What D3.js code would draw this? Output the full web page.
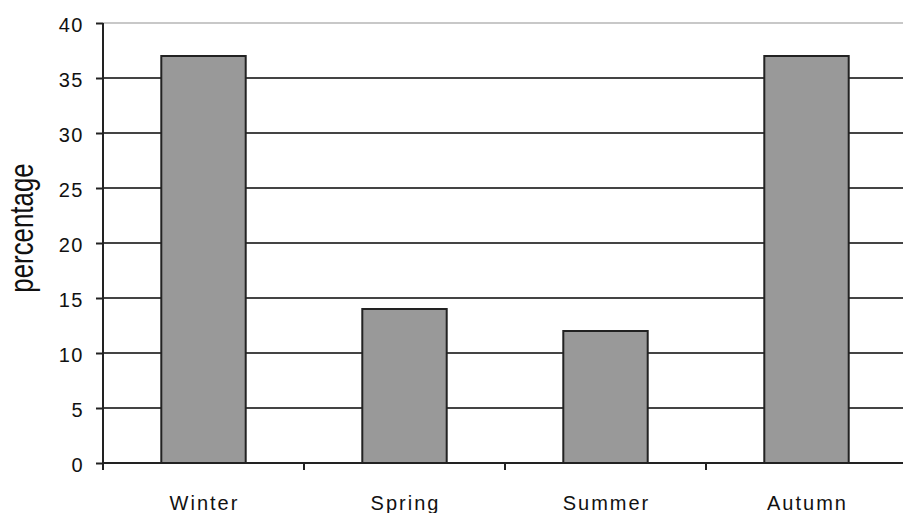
<!DOCTYPE html>
<html>
<head>
<meta charset="utf-8">
<script src="https://cdn.jsdelivr.net/npm/d3@7"></script>
<style>
  html, body { margin: 0; padding: 0; background: #fff; overflow: hidden; }
  svg { display: block; }
  text { font-family: "Liberation Sans", Arial, sans-serif; }
</style>
</head>
<body>
<div id="chart"></div>
<script>
// Seasonal share (percentage) per category
const seasons = ["Winter", "Spring", "Summer", "Autumn"];
const percentages = [37, 14, 12, 37];
const yTicks = [0, 5, 10, 15, 20, 25, 30, 35, 40];
const yTitle = "percentage";

const width = 903, height = 513;
const margin = { top: 23, right: -4, bottom: 50, left: 103 };
const innerW = width - margin.left - margin.right;
const innerH = height - margin.top - margin.bottom;

const svg = d3.select("#chart").append("svg")
  .attr("width", width).attr("height", height);

const g = svg.append("g").attr("transform", `translate(${margin.left},${margin.top})`);

const x = d3.scaleBand().domain(seasons).range([0, innerW]).paddingInner(0.58).paddingOuter(0.29);
const y = d3.scaleLinear().domain([0, 40]).range([innerH, 0]);

// horizontal gridlines
g.append("g").selectAll("line").data(yTicks.filter(t => t > 0)).join("line")
  .attr("x1", 0).attr("x2", innerW)
  .attr("y1", d => y(d)).attr("y2", d => y(d))
  .attr("stroke", d => d === 40 ? "#c8c8c8" : "#444")
  .attr("stroke-width", 2);

// bars
g.append("g").selectAll("rect").data(seasons).join("rect")
  .attr("x", d => x(d))
  .attr("y", (d, i) => y(percentages[i]))
  .attr("width", x.bandwidth())
  .attr("height", (d, i) => y(0) - y(percentages[i]))
  .attr("fill", "#999999")
  .attr("stroke", "#222")
  .attr("stroke-width", 2);

// y axis
const yAxis = g.append("g")
  .call(d3.axisLeft(y).tickValues(yTicks).tickSize(7).tickPadding(12));
yAxis.select(".domain").attr("stroke", "#222").attr("stroke-width", 2)
  .attr("d", `M0,${innerH + 7}V0`);
yAxis.selectAll(".tick line").attr("stroke", "#222").attr("stroke-width", 2);
yAxis.selectAll(".tick text")
  .attr("font-size", 20)
  .attr("letter-spacing", "1.5px")
  .attr("dy", "0.4em")
  .attr("fill", "#111")
  .attr("font-family", "'Liberation Sans', Arial, sans-serif");

// x axis: ticks fall on the band boundaries
const bounds = d3.range(1, seasons.length).map(i => x(seasons[i]) - (x.step() - x.bandwidth()) / 2);
const xAxis = g.append("g").attr("transform", `translate(0,${innerH})`);
xAxis.append("line").attr("x1", 0).attr("x2", innerW)
  .attr("stroke", "#222").attr("stroke-width", 2);
xAxis.selectAll("line.tk").data(bounds).join("line").attr("class", "tk")
  .attr("x1", d => d).attr("x2", d => d).attr("y1", 0).attr("y2", 7)
  .attr("stroke", "#222").attr("stroke-width", 2);
xAxis.selectAll("text").data(seasons).join("text")
  .attr("x", d => x(d) + x.bandwidth() / 2 + 1)
  .attr("y", 47)
  .attr("text-anchor", "middle")
  .attr("font-size", 20)
  .attr("letter-spacing", "2px")
  .attr("fill", "#111")
  .text(d => d);

// y axis title, tall and narrow
svg.append("text")
  .attr("transform", `translate(33,${margin.top + innerH / 2 - 15}) rotate(-90) scale(0.76,1)`)
  .attr("text-anchor", "middle")
  .attr("font-size", 34)
  .attr("fill", "#111")
  .text(yTitle);
</script>
</body>
</html>
